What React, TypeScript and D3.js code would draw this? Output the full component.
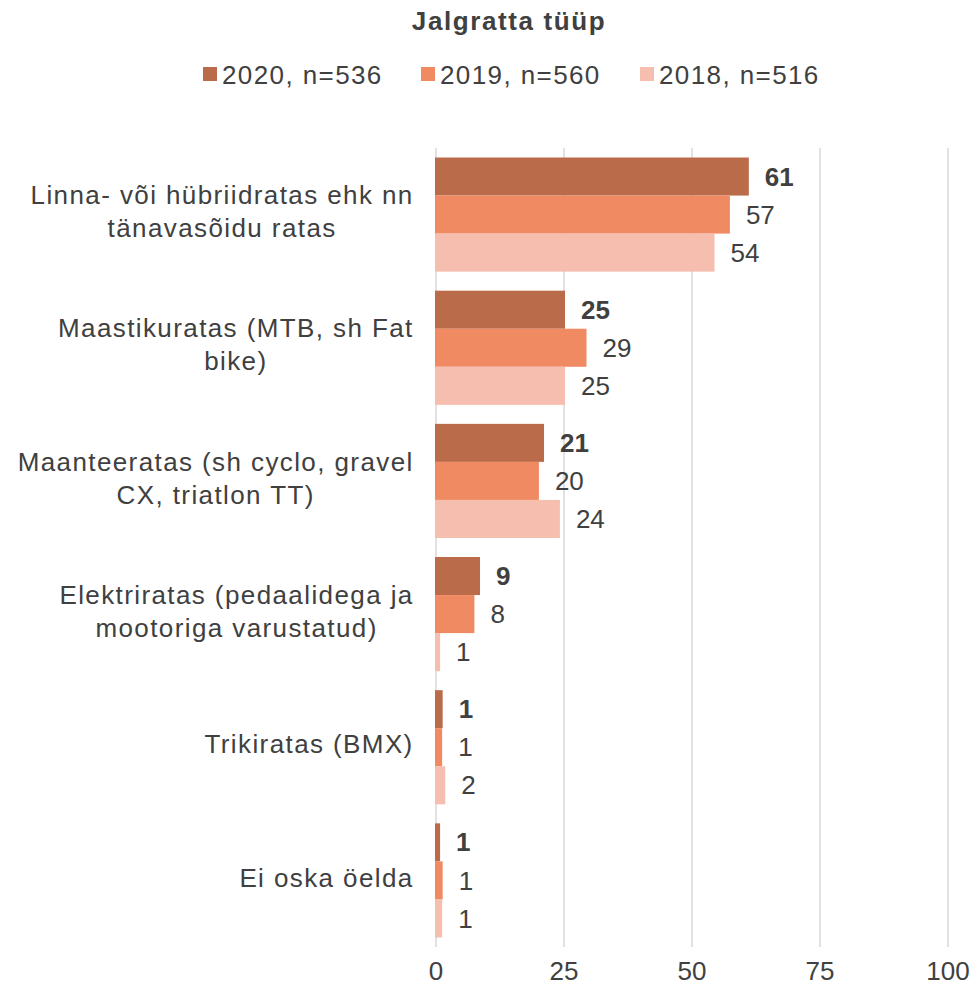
import React, { useEffect, useRef } from "react";
import * as d3 from "d3";

const categories = [
  ["Linna- või hübriidratas ehk nn", "tänavasõidu ratas"],
  ["Maastikuratas (MTB, sh Fat", "bike)"],
  ["Maanteeratas (sh cyclo, gravel", "CX, triatlon TT)"],
  ["Elektriratas (pedaalidega ja", "mootoriga varustatud)"],
  ["Trikiratas (BMX)"],
  ["Ei oska öelda"],
];
const seriesNames = ["2020, n=536", "2019, n=560", "2018, n=516"];
const values2020 = [61.1, 25.2, 21.1, 8.6, 1.3, 0.8];
const values2019 = [57.4, 29.4, 20.1, 7.5, 1.2, 1.3];
const values2018 = [54.4, 25.2, 24.2, 0.8, 1.8, 1.2];
const xTicks = [0, 25, 50, 75, 100];
const colors = ["#BA6B4A", "#F08A62", "#F5BEAE"];

const W = 978;
const H = 985;
const FONT = "'Liberation Sans', Arial, Helvetica, sans-serif";
const TXT = "#404040";

export default function App() {
  const ref = useRef<SVGSVGElement>(null);
  useEffect(() => {
    const svg = d3.select(ref.current);
    svg.selectAll("*").remove();
    const series = [values2020, values2019, values2018];
    const catKeys = categories.map((c) => c.join(" "));
    const x = d3.scaleLinear().domain([0, 100]).range([436, 948]);
    const y0 = d3.scaleBand<string>().domain(catKeys).range([148, 947]).paddingInner(0.143).paddingOuter(0.0715);
    const y1 = d3.scaleBand<number>().domain([0, 1, 2]).range([0, y0.bandwidth()]);

    // title
    svg.append("text").attr("x", 509).attr("y", 30).attr("text-anchor", "middle")
      .attr("font-family", FONT).attr("font-weight", "bold").attr("font-size", 26).attr("fill", TXT)
      .attr("letter-spacing", 1.6)
      .text("Jalgratta tüüp");

    // legend
    const legX = [203, 421, 640];
    seriesNames.forEach((n, i) => {
      svg.append("rect").attr("x", legX[i]).attr("y", 67).attr("width", 14).attr("height", 14).attr("fill", colors[i]);
      svg.append("text").attr("x", legX[i] + 19).attr("y", 84).attr("font-family", FONT).attr("font-size", 26)
        .attr("letter-spacing", 1.4).attr("fill", TXT).text(n);
    });

    // gridlines
    svg.append("g").selectAll("line").data(xTicks).join("line")
      .attr("x1", (d) => x(d)).attr("x2", (d) => x(d)).attr("y1", 148).attr("y2", 947)
      .attr("stroke", "#D9D9D9").attr("stroke-width", 1.5);

    // tick labels
    svg.append("g").selectAll("text").data(xTicks).join("text")
      .attr("x", (d) => x(d)).attr("y", 980).attr("text-anchor", "middle")
      .attr("font-family", FONT).attr("font-size", 26).attr("fill", TXT).text((d) => String(d));

    // bars
    catKeys.forEach((k, ci) => {
      series.forEach((s, si) => {
        const yy = (y0(k) as number) + (y1(si) as number);
        svg.append("rect").attr("x", x(0) - 1).attr("y", yy).attr("width", x(s[ci]) - x(0) + 1)
          .attr("height", y1.bandwidth()).attr("fill", colors[si]);
        svg.append("text").attr("x", x(s[ci]) + 16).attr("y", yy + y1.bandwidth() / 2)
          .attr("dy", "0.35em").attr("font-family", FONT).attr("font-size", 26)
          .attr("font-weight", si === 0 ? "bold" : "normal").attr("fill", TXT)
          .text(String(Math.round(s[ci])));
      });
      // category label
      const lines = categories[ci];
      const g = svg.append("g");
      const lh = 33;
      const cy = (y0(k) as number) + y0.bandwidth() / 2 - 3;
      const texts = lines.map((l, li) =>
        g.append("text").attr("y", cy + (li - (lines.length - 1) / 2) * lh).attr("dy", "0.35em")
          .attr("text-anchor", "middle").attr("font-family", FONT).attr("font-size", 26)
          .attr("letter-spacing", 1.4).attr("fill", TXT).text(l)
      );
      let maxW = 0;
      texts.forEach((t) => { maxW = Math.max(maxW, (t.node() as SVGTextElement).getComputedTextLength()); });
      texts.forEach((t) => t.attr("x", 413 - maxW / 2 + 0.7));
    });
  }, []);
  return (
    <svg ref={ref} width={W} height={H} style={{ position: "absolute", left: 0, top: 0, background: "#fff" }} />
  );
}
